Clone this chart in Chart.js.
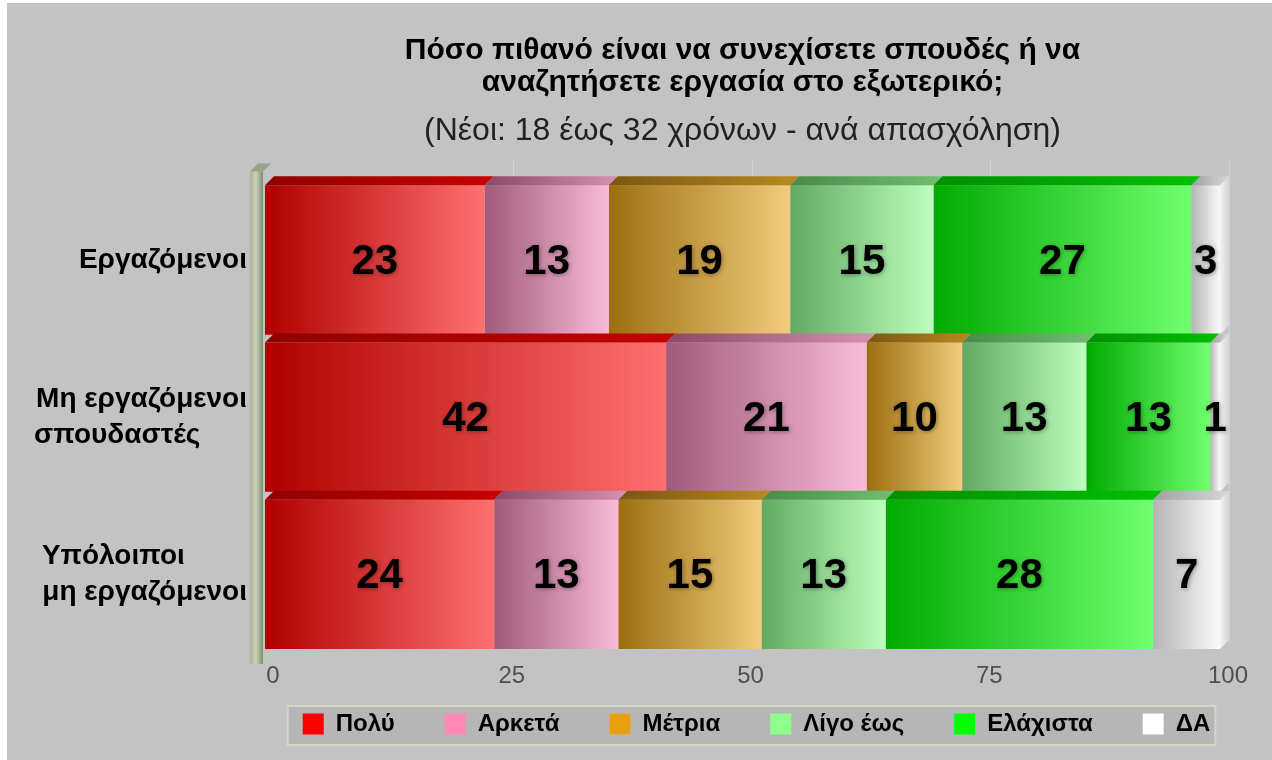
<!DOCTYPE html>
<html>
<head>
<meta charset="utf-8">
<script src="https://cdn.jsdelivr.net/npm/chart.js@4.4.0/dist/chart.umd.min.js"></script>
<style>
html, body { margin: 0; padding: 0; background: #fff; }
</style>
</head>
<body>
<canvas id="barChart" width="1272" height="760"></canvas>
<script>
// data (short lines padded so the two-line labels sit left-aligned)
var categories = ["Εργαζόμενοι", ["Μη εργαζόμενοι", "σπουδαστές      "], ["Υπόλοιποι        ", "μη εργαζόμενοι"]];
var seriesNames = ["Πολύ", "Αρκετά", "Μέτρια", "Λίγο έως", "Ελάχιστα", "ΔΑ"];
var poly = [23, 42, 24];
var arketa = [13, 21, 13];
var metria = [19, 10, 15];
var ligo = [15, 13, 13];
var elaxista = [27, 13, 28];
var da = [3, 1, 7];
var xTicks = [0, 25, 50, 75, 100];
var seriesValues = [poly, arketa, metria, ligo, elaxista, da];

// colours
var legendColors = ["#ff0000", "#ff88b4", "#e8a010", "#90ff90", "#00ff00", "#ffffff"];
var frontColors = [["#b00000", "#ff7070"], ["#a05a7a", "#f8bcd8"], ["#9c6e10", "#f0cc7c"],
                   ["#62aa62", "#bcffbc"], ["#00aa00", "#70ff70"], ["#b4b4b4", "#fafafa"]];
var topColors = [["#900000", "#c80000"], ["#8a4866", "#d890b4"], ["#7a5610", "#b88a20"],
                 ["#4a8a4a", "#70c070"], ["#009000", "#00c000"], ["#a0a0a0", "#d8d8d8"]];
var DEPTH = 9;
var FONT = 'Arial, "Liberation Sans", sans-serif';
var legendPad = "      ";

function stackStart(ds, i) {
  var s = 0;
  for (var k = 0; k < ds; k++) s += seriesValues[k][i];
  return s;
}

function frontFill(c) {
  var ds = c.datasetIndex;
  if (c.type !== 'data') return legendColors[ds];
  var x = c.chart.scales.x;
  var s = stackStart(ds, c.dataIndex);
  var x0 = x.getPixelForValue(s), x1 = x.getPixelForValue(s + seriesValues[ds][c.dataIndex]);
  if (!isFinite(x0) || !isFinite(x1) || x0 === x1) return frontColors[ds][1];
  var g = c.chart.ctx.createLinearGradient(x0, 0, x1, 0);
  g.addColorStop(0, frontColors[ds][0]);
  g.addColorStop(1, frontColors[ds][1]);
  return g;
}

var backdrop = {
  id: 'backdrop',
  afterLayout: function (chart) {
    // legend sits a little right of the plot centre
    chart.legend.left += 14;
    chart.legend.right += 14;
  },
  beforeDraw: function (chart) {
    var ctx = chart.ctx;
    ctx.save();
    ctx.fillStyle = '#ffffff';
    ctx.fillRect(0, 0, chart.width, chart.height);
    ctx.fillStyle = '#c3c3c3';
    ctx.fillRect(7, 3, chart.width - 7, chart.height - 3);
    // legend frame
    var boxes = chart.legend.legendHitBoxes;
    if (boxes && boxes.length) {
      var l = boxes[0].left, r = 0, t = boxes[0].top, h = boxes[0].height;
      boxes.forEach(function (b) { l = Math.min(l, b.left); r = Math.max(r, b.left + b.width); });
      ctx.fillStyle = '#b6b6b6';
      ctx.strokeStyle = '#d4d4c8';
      ctx.lineWidth = 2;
      ctx.fillRect(l - 15, t - 6, r - l + 20, h + 15);
      ctx.strokeRect(l - 15, t - 6, r - l + 20, h + 15);
    }
    ctx.restore();
  },
  beforeDatasetsDraw: function (chart) {
    var ctx = chart.ctx, a = chart.chartArea, x = chart.scales.x;
    ctx.save();
    // faint grid lines behind the bars
    ctx.strokeStyle = '#d2d2d2';
    ctx.lineWidth = 1;
    xTicks.forEach(function (v) {
      if (v === 0) return;
      var px = Math.round(x.getPixelForValue(v) + DEPTH) + 0.5;
      ctx.beginPath();
      ctx.moveTo(px, a.top - 22);
      ctx.lineTo(px, a.bottom - DEPTH);
      ctx.stroke();
    });
    // left wall
    var wl = a.left - 15, wr = a.left - 2, wt = a.top - 10, wb = a.bottom + 11;
    var g = ctx.createLinearGradient(wl, 0, wr, 0);
    g.addColorStop(0, '#a8b498');
    g.addColorStop(0.45, '#c8d2b6');
    g.addColorStop(1, '#7e8c6e');
    ctx.fillStyle = g;
    ctx.fillRect(wl, wt, wr - wl, wb - wt);
    ctx.fillStyle = '#98a688';
    ctx.beginPath();
    ctx.moveTo(wl, wt);
    ctx.lineTo(wl + 8, wt - 8);
    ctx.lineTo(wr + 8, wt - 8);
    ctx.lineTo(wr, wt);
    ctx.closePath();
    ctx.fill();
    ctx.fillStyle = '#c0ccb0';
    ctx.beginPath();
    ctx.moveTo(wr, a.bottom);
    ctx.lineTo(wr + 10, a.bottom);
    ctx.lineTo(wr, a.bottom + 10);
    ctx.closePath();
    ctx.fill();
    ctx.restore();
  },
  afterDatasetsDraw: function (chart) {
    var ctx = chart.ctx;
    var last = chart.data.datasets.length - 1;
    var D = DEPTH;
    ctx.save();
    chart.data.datasets.forEach(function (d, ds) {
      chart.getDatasetMeta(ds).data.forEach(function (bar, i) {
        var p = bar.getProps(['x', 'y', 'base', 'height'], true);
        var x0 = Math.min(p.base, p.x), x1 = Math.max(p.base, p.x);
        var top = p.y - p.height / 2, bottom = p.y + p.height / 2;
        var g = ctx.createLinearGradient(x0, 0, x1 + D, 0);
        g.addColorStop(0, topColors[ds][0]);
        g.addColorStop(1, topColors[ds][1]);
        ctx.fillStyle = g;
        ctx.beginPath();
        ctx.moveTo(x0, top);
        ctx.lineTo(x0 + D, top - D);
        ctx.lineTo(x1 + D, top - D);
        ctx.lineTo(x1, top);
        ctx.closePath();
        ctx.fill();
        if (ds === last) {
          var s = ctx.createLinearGradient(x1, 0, x1 + D, 0);
          s.addColorStop(0, '#f4f4f4');
          s.addColorStop(1, '#d4d4d4');
          ctx.fillStyle = s;
          ctx.beginPath();
          ctx.moveTo(x1, top);
          ctx.lineTo(x1 + D, top - D);
          ctx.lineTo(x1 + D, bottom - D);
          ctx.lineTo(x1, bottom);
          ctx.closePath();
          ctx.fill();
        }
      });
    });
    // value labels
    ctx.font = 'bold 42px ' + FONT;
    ctx.textAlign = 'center';
    ctx.textBaseline = 'middle';
    ctx.fillStyle = '#000';
    ctx.shadowColor = 'rgba(0,0,0,0.35)';
    ctx.shadowBlur = 4;
    ctx.shadowOffsetX = 1;
    ctx.shadowOffsetY = 1;
    chart.data.datasets.forEach(function (d, ds) {
      chart.getDatasetMeta(ds).data.forEach(function (bar, i) {
        var p = bar.getProps(['x', 'y', 'base'], true);
        ctx.fillText(String(seriesValues[ds][i]), (p.x + p.base) / 2, p.y + 2);
      });
    });
    ctx.restore();
  }
};

var ctxB = document.getElementById("barChart").getContext('2d');
var myBarChart = new Chart(ctxB, {
  type: 'bar',
  plugins: [backdrop],
  data: {
    labels: categories,
    datasets: seriesNames.map(function (name, i) {
      return {
        label: name,
        data: seriesValues[i],
        backgroundColor: frontFill,
        borderWidth: 0,
        barPercentage: 0.95,
        categoryPercentage: 1
      };
    })
  },
  options: {
    indexAxis: 'y',
    responsive: false,
    animation: false,
    layout: { padding: { top: 20, left: 7, right: 52, bottom: 14 } },
    scales: {
      x: {
        stacked: true,
        min: 0,
        max: 100,
        afterBuildTicks: function (s) { s.ticks = xTicks.map(function (v) { return { value: v }; }); },
        afterFit: function (s) { s.height = 49; },
        grid: { display: false, drawTicks: false },
        border: { display: false },
        ticks: {
          color: '#505050',
          font: { family: FONT, size: 24 },
          padding: 9,
          labelOffset: 8
        }
      },
      y: {
        stacked: true,
        afterFit: function (s) { s.width = 258; },
        grid: { display: false, drawTicks: false },
        border: { display: false },
        ticks: {
          color: '#000',
          font: { family: FONT, size: 28, weight: 'bold', lineHeight: 1.3 },
          padding: 18
        }
      }
    },
    plugins: {
      title: {
        display: true,
        fullSize: false,
        text: ["Πόσο πιθανό είναι να συνεχίσετε σπουδές ή να", "αναζητήσετε εργασία στο εξωτερικό;"],
        color: '#000',
        font: { family: FONT, size: 30, weight: 'bold', lineHeight: 1.0667 },
        padding: { top: 15, bottom: 4 }
      },
      subtitle: {
        display: true,
        fullSize: false,
        text: "(Νέοι: 18 έως 32 χρόνων - ανά απασχόληση)",
        color: '#222',
        font: { family: FONT, size: 32, lineHeight: 1.2 },
        padding: { top: 9, bottom: 31 }
      },
      legend: {
        position: 'bottom',
        fullSize: false,
        labels: {
          boxWidth: 21,
          boxHeight: 21,
          padding: 10,
          color: '#000',
          font: { family: FONT, size: 24, weight: 'bold' },
          generateLabels: function () {
            return seriesNames.map(function (n, i) {
              return {
                text: n + (i < seriesNames.length - 1 ? legendPad : ''),
                fillStyle: legendColors[i],
                strokeStyle: legendColors[i],
                lineWidth: 0,
                fontColor: '#000',
                datasetIndex: i,
                hidden: false
              };
            });
          }
        }
      },
      tooltip: { enabled: false }
    }
  }
});
</script>
</body>
</html>
